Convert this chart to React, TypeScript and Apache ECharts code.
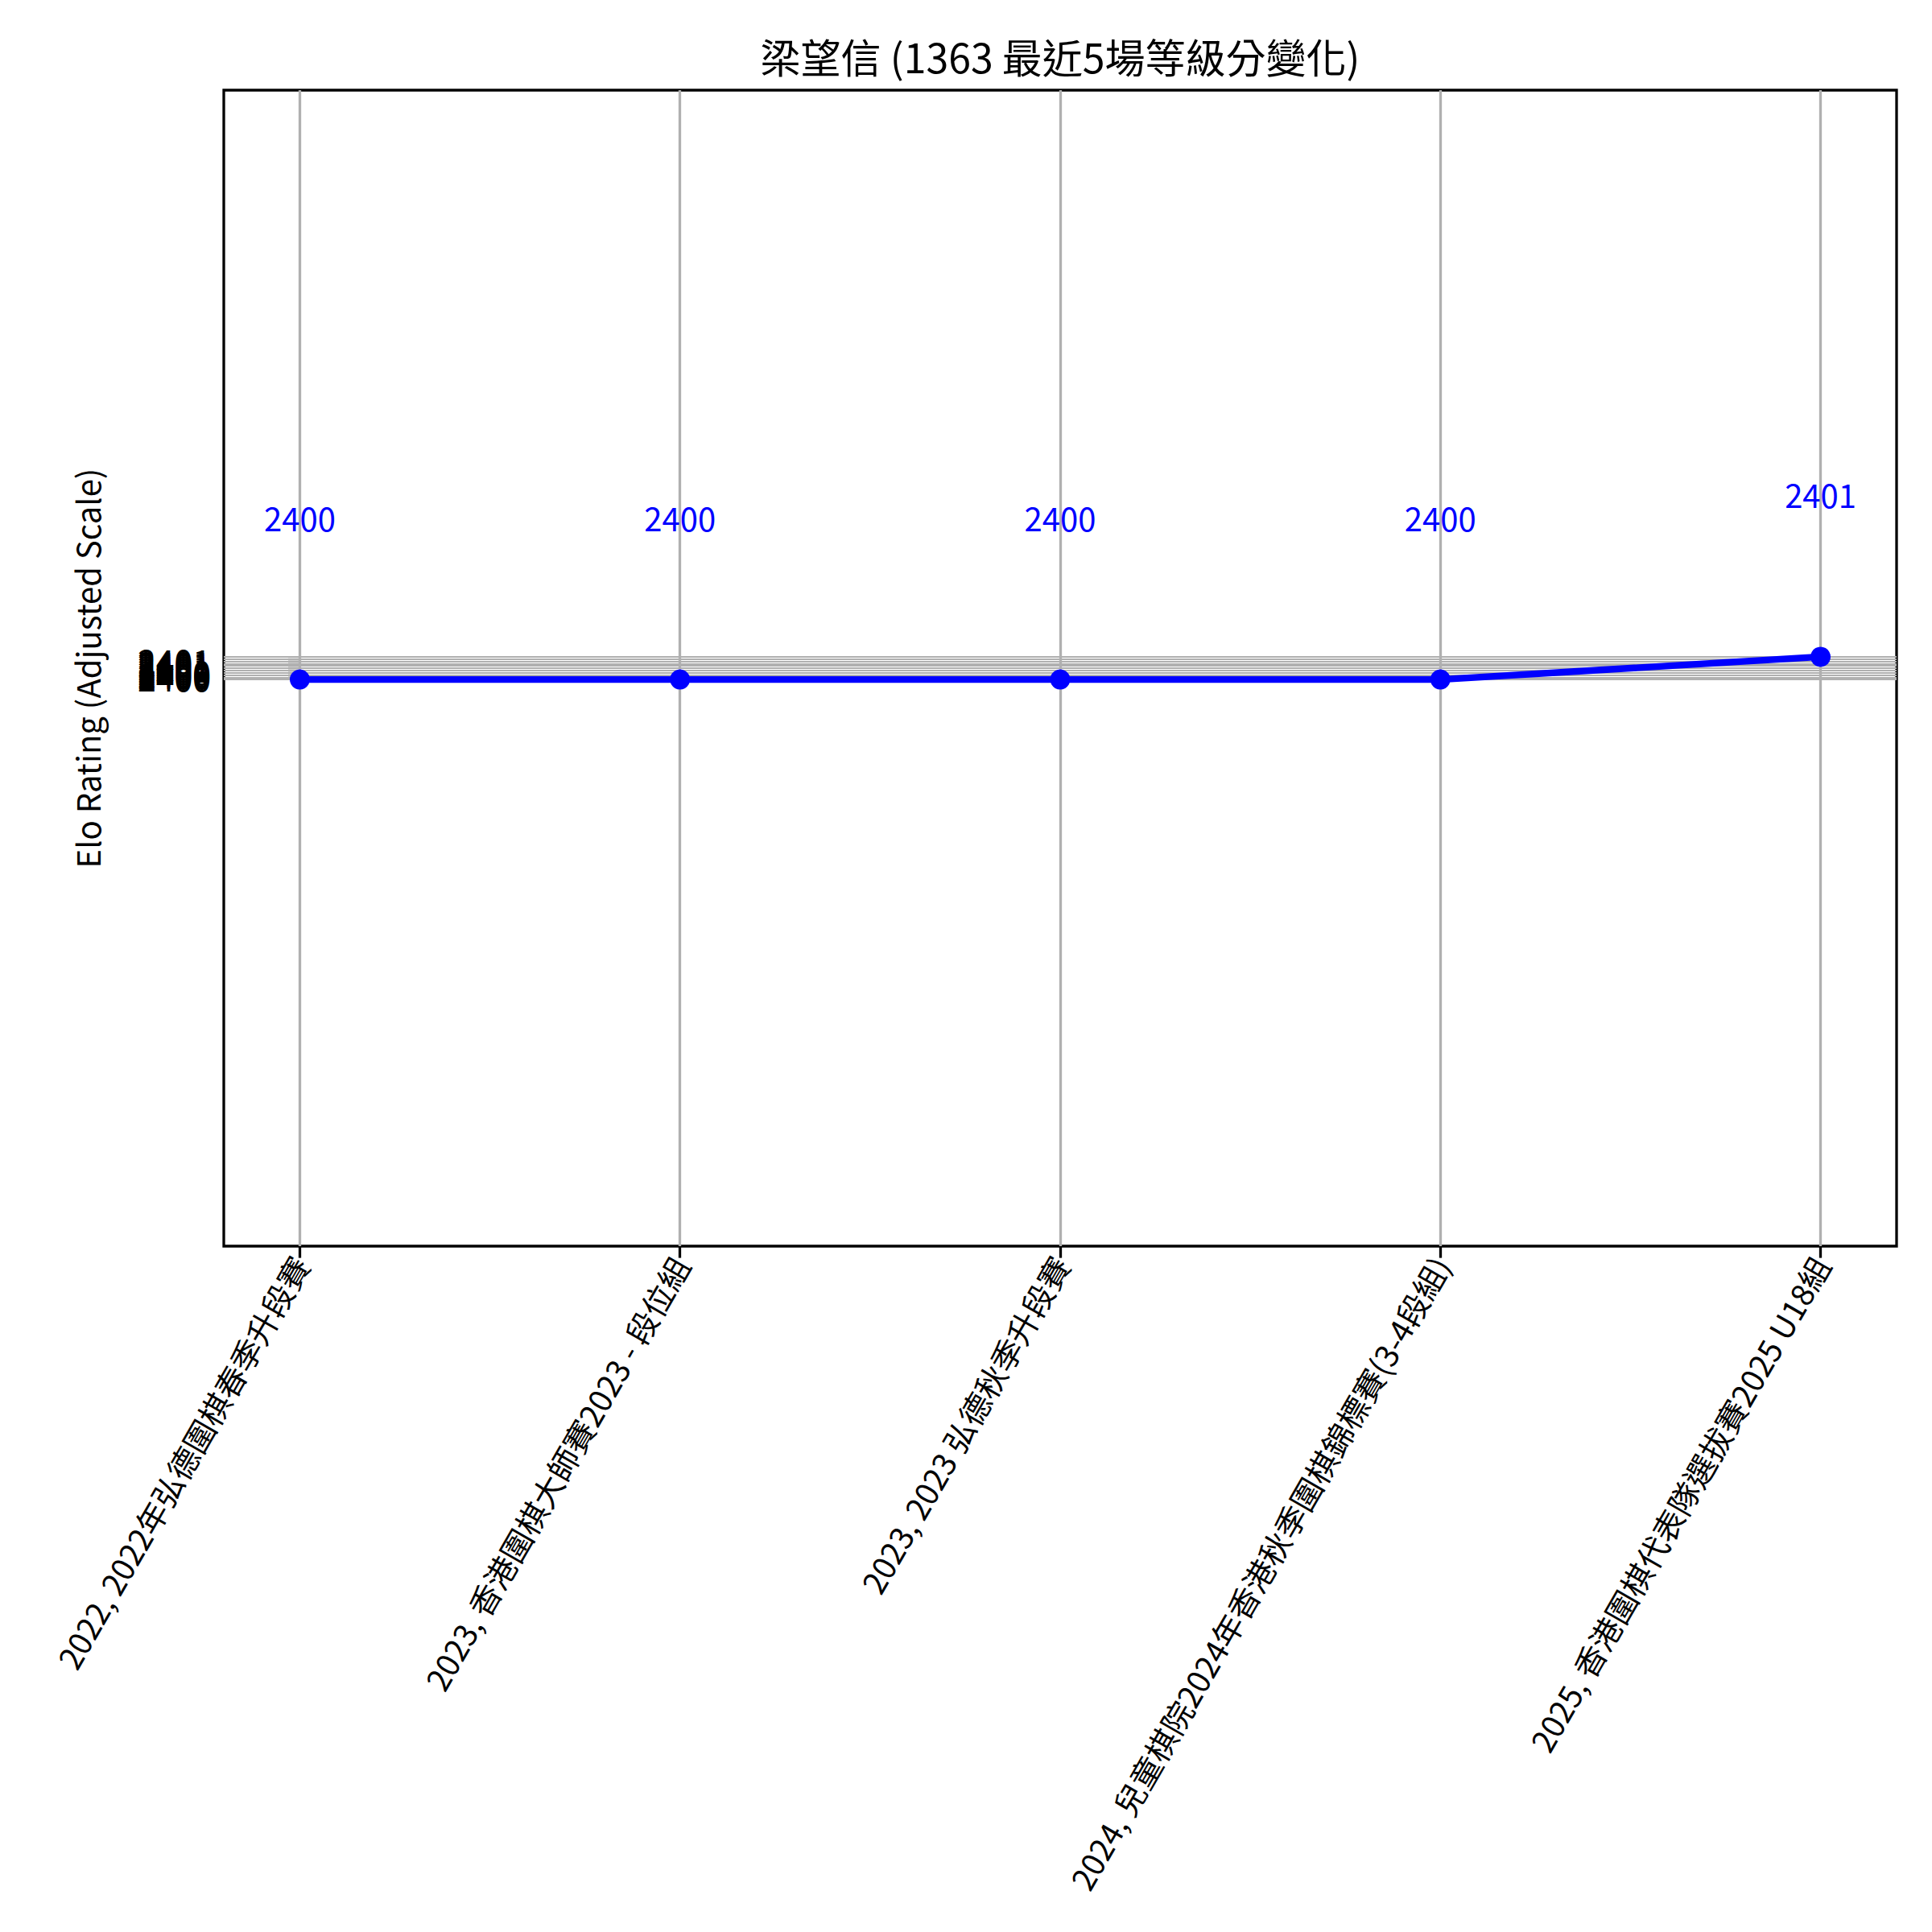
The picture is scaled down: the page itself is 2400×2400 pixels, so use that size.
import React, { useEffect, useRef } from "react";
import * as echarts from "echarts";

const titleText = "梁望信 (1363 最近5場等級分變化)";
const yAxisName = "Elo Rating (Adjusted Scale)";
const categories = [
  "2022, 2022年弘德圍棋春季升段賽",
  "2023, 香港圍棋大師賽2023 - 段位組",
  "2023, 2023 弘德秋季升段賽",
  "2024, 兒童棋院2024年香港秋季圍棋錦標賽(3-4段組)",
  "2025, 香港圍棋代表隊選拔賽2025 U18組",
];
const ratings = [2400, 2400, 2400, 2400, 2401];
const yTicks = [2400, 2400.1, 2400.2, 2400.3, 2400.4, 2400.5, 2400.6, 2400.7, 2400.8, 2400.9, 2401];
const yTickLabels = ["2400", "2400", "2400", "2400", "2400", "2401", "2401", "2401", "2401", "2401", "2401"];
const yMin = 2375;
const yMax = 2426;

const FONT = "'Noto Sans CJK TC', 'Noto Sans', sans-serif";

export default function App() {
  const ref = useRef<HTMLDivElement>(null);
  useEffect(() => {
    if (!ref.current) return;
    const chart = echarts.init(ref.current, undefined, { renderer: "svg" });
    const xIdx = categories.map((_, i) => i);
    const gridLineData = [
      ...xIdx.map((i) => ({ xAxis: i, lineStyle: { color: "#b0b0b0", width: 3.3, type: "solid" } })),
      ...yTicks.map((v) => ({ yAxis: v, lineStyle: { color: "#b0b0b0", width: 2.2, type: "solid" } })),
    ];
    chart.setOption({
      animation: false,
      backgroundColor: "#ffffff",
      title: {
        text: titleText,
        left: 1317,
        top: 44,
        textAlign: "center",
        padding: 0,
        textStyle: { fontFamily: FONT, fontSize: 50, fontWeight: "normal", color: "#000" },
      },
      grid: {
        left: 278,
        top: 112,
        right: 44,
        bottom: 852,
        show: true,
        borderColor: "#000",
        borderWidth: 3.3,
        backgroundColor: "transparent",
        containLabel: false,
      },
      xAxis: {
        type: "value",
        min: -0.2,
        max: 4.2,
        axisLine: { show: false },
        splitLine: { show: false },
        axisTick: {
          show: true,
          customValues: xIdx,
          length: 14.6,
          lineStyle: { color: "#000", width: 3.3 },
        },
        axisLabel: {
          show: true,
          customValues: xIdx,
          rotate: 60,
          margin: 16,
          fontFamily: FONT,
          fontSize: 39,
          color: "#000",
          formatter: (v: number) => categories[Math.round(v)] ?? "",
        },
      },
      yAxis: {
        type: "value",
        min: yMin,
        max: yMax,
        name: yAxisName,
        nameLocation: "middle",
        nameRotate: 90,
        nameGap: 150,
        nameTextStyle: { fontFamily: FONT, fontSize: 40, color: "#000" },
        axisLine: { show: false },
        splitLine: { show: false },
        axisTick: {
          show: true,
          customValues: yTicks,
          length: 14.6,
          lineStyle: { color: "#000", width: 2.2 },
        },
        axisLabel: {
          show: true,
          customValues: yTicks,
          margin: 16,
          fontFamily: FONT,
          fontSize: 41,
          color: "#000",
          formatter: (v: number) => {
            const k = yTicks.findIndex((t) => Math.abs(t - v) < 1e-6);
            return k >= 0 ? yTickLabels[k] : "";
          },
        },
      },
      series: [
        {
          type: "line",
          name: "grid",
          z: 1,
          data: xIdx.map((i) => [i, ratings[i]]),
          symbol: "none",
          lineStyle: { opacity: 0 },
          silent: true,
          markLine: {
            silent: true,
            symbol: "none",
            label: { show: false },
            lineStyle: { color: "#b0b0b0", width: 3.3, type: "solid" },
            emphasis: { disabled: true },
            data: gridLineData,
          },
        },
        {
          type: "line",
          name: "Elo",
          z: 5,
          data: xIdx.map((i) => [i, ratings[i]]),
          symbol: "circle",
          symbolSize: 25,
          itemStyle: { color: "#0000ff" },
          lineStyle: { color: "#0000ff", width: 8.3 },
          label: {
            show: true,
            position: "top",
            distance: 167,
            color: "#0000ff",
            fontFamily: FONT,
            fontSize: 40,
            lineHeight: 44,
            formatter: (p: any) => String(p.value[1]),
          },
        },
      ],
    });
    return () => chart.dispose();
  }, []);
  return (
    <div
      ref={ref}
      style={{ position: "absolute", left: 0, top: 0, width: 2400, height: 2400 }}
    />
  );
}
